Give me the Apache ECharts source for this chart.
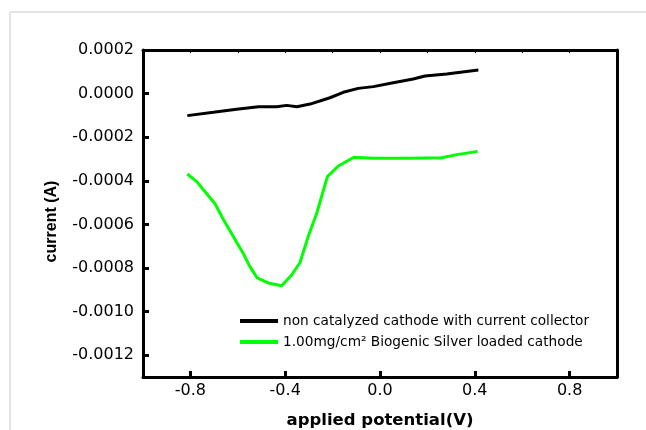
<!DOCTYPE html>
<html>
<head>
<meta charset="utf-8">
<script src="https://cdn.jsdelivr.net/npm/echarts@6/dist/echarts.min.js"></script>
<style>
  html, body { margin: 0; padding: 0; background: #fff; }
  #chart { width: 646px; height: 430px; }
</style>
</head>
<body>
<div id="chart"></div>
<script>
// applied potential (V) / current (A)
var bareV = [-0.813, -0.703, -0.605, -0.513, -0.436, -0.394, -0.351, -0.295, -0.211, -0.155,
             -0.092, -0.028, 0.056, 0.140, 0.190, 0.281, 0.415];
var bareI = [-0.000101, -0.000086, -0.000072, -0.000060, -0.000060, -0.000054, -0.000060, -0.000048,
             -0.000019, 0.000006, 0.000024, 0.000032, 0.000050, 0.000067, 0.000081, 0.000090, 0.000108];

var silverV = [-0.813, -0.773, -0.746, -0.696, -0.661, -0.619, -0.577, -0.549, -0.518, -0.467,
               -0.415, -0.373, -0.338, -0.303, -0.267, -0.222, -0.176, -0.110, -0.028, 0.127,
               0.260, 0.324, 0.412];
var silverI = [-0.000369, -0.000404, -0.000440, -0.000505, -0.000577, -0.000656, -0.000733, -0.000794,
               -0.000845, -0.000870, -0.000881, -0.000832, -0.000776, -0.000656, -0.000549, -0.000381,
               -0.000332, -0.000292, -0.000297, -0.000297, -0.000294, -0.000280, -0.000265];

var xTicks = [-0.8, -0.4, 0.0, 0.4, 0.8];
var yTicks = [0.0002, 0.0, -0.0002, -0.0004, -0.0006, -0.0008, -0.0010, -0.0012];

var seriesNames = ["non catalyzed cathode with current collector",
                   "1.00mg/cm\u00b2 Biogenic Silver loaded cathode"];

function pairs(xs, ys) {
    var out = [];
    for (var i = 0; i < xs.length; i++) out.push([xs[i], ys[i]]);
    return out;
}

var chart = echarts.init(document.getElementById('chart'));
var font = 'Liberation Sans, Arial, sans-serif';
var wide = 'DejaVu Sans, sans-serif';

chart.setOption({
    animation: false,
    textStyle: { fontFamily: font },
    graphic: [{
        type: 'polyline',
        shape: { points: [[10, 430], [10, 12], [646, 12]] },
        style: { stroke: '#c8c8c8', lineWidth: 1, fill: null }
    }],
    grid: { left: 143, right: 29, top: 50, bottom: 53, outerBoundsMode: 'none', containLabel: false },
    legend: {
        orient: 'vertical',
        left: 240,
        top: 314,
        padding: 0,
        itemWidth: 38,
        itemHeight: 4,
        itemGap: 7,
        icon: 'rect',
        textStyle: { fontFamily: wide, fontSize: 13.7, color: '#000' },
        data: seriesNames
    },
    xAxis: [{
        type: 'value',
        min: -1, max: 1,
        position: 'bottom',
        name: 'applied potential(V)',
        nameLocation: 'middle',
        nameGap: 35,
        nameTextStyle: { fontFamily: wide, fontSize: 16.5, fontWeight: 'bold', color: '#000' },
        axisLine: { show: true, onZero: false, lineStyle: { color: '#000', width: 3 } },
        axisTick: { show: true, inside: true, length: 6, lineStyle: { color: '#000', width: 3 },
                    customValues: xTicks },
        axisLabel: { fontFamily: wide, fontSize: 16, color: '#000', margin: 6,
                     customValues: xTicks,
                     formatter: function (v) { return v.toFixed(1); } },
        splitLine: { show: false }
    }, {
        type: 'value',
        min: -1, max: 1, interval: 0.2,
        position: 'top',
        axisLine: { show: true, onZero: false, lineStyle: { color: '#000', width: 3 } },
        axisTick: { show: true, inside: true, length: 3, lineStyle: { color: '#000', width: 1 } },
        axisLabel: { show: false },
        splitLine: { show: false }
    }],
    yAxis: [{
        type: 'value',
        min: -0.0013, max: 0.0002,
        position: 'left',
        name: 'current (A)',
        nameLocation: 'middle',
        nameGap: 83,
        nameTextStyle: { fontFamily: font, fontSize: 16, fontWeight: 'bold', color: '#000',
                         padding: [0, 16, 0, 0] },
        axisLine: { show: true, onZero: false, lineStyle: { color: '#000', width: 3 } },
        axisTick: { show: true, inside: true, length: 6, lineStyle: { color: '#000', width: 3 },
                    customValues: yTicks },
        axisLabel: { fontFamily: wide, fontSize: 16, color: '#000', margin: 9,
                     customValues: yTicks,
                     formatter: function (v) { return v.toFixed(4); } },
        splitLine: { show: false }
    }, {
        type: 'value',
        min: -0.0013, max: 0.0002,
        position: 'right',
        axisLine: { show: true, onZero: false, lineStyle: { color: '#000', width: 3 } },
        axisTick: { show: false },
        axisLabel: { show: false },
        splitLine: { show: false }
    }],
    series: [{
        name: seriesNames[0],
        type: 'line',
        data: pairs(bareV, bareI),
        showSymbol: false,
        symbol: 'none',
        color: '#000',
        lineStyle: { color: '#000', width: 3 }
    }, {
        name: seriesNames[1],
        type: 'line',
        data: pairs(silverV, silverI),
        showSymbol: false,
        symbol: 'none',
        color: '#00ff00',
        lineStyle: { color: '#00ff00', width: 3 }
    }]
});
</script>
</body>
</html>
